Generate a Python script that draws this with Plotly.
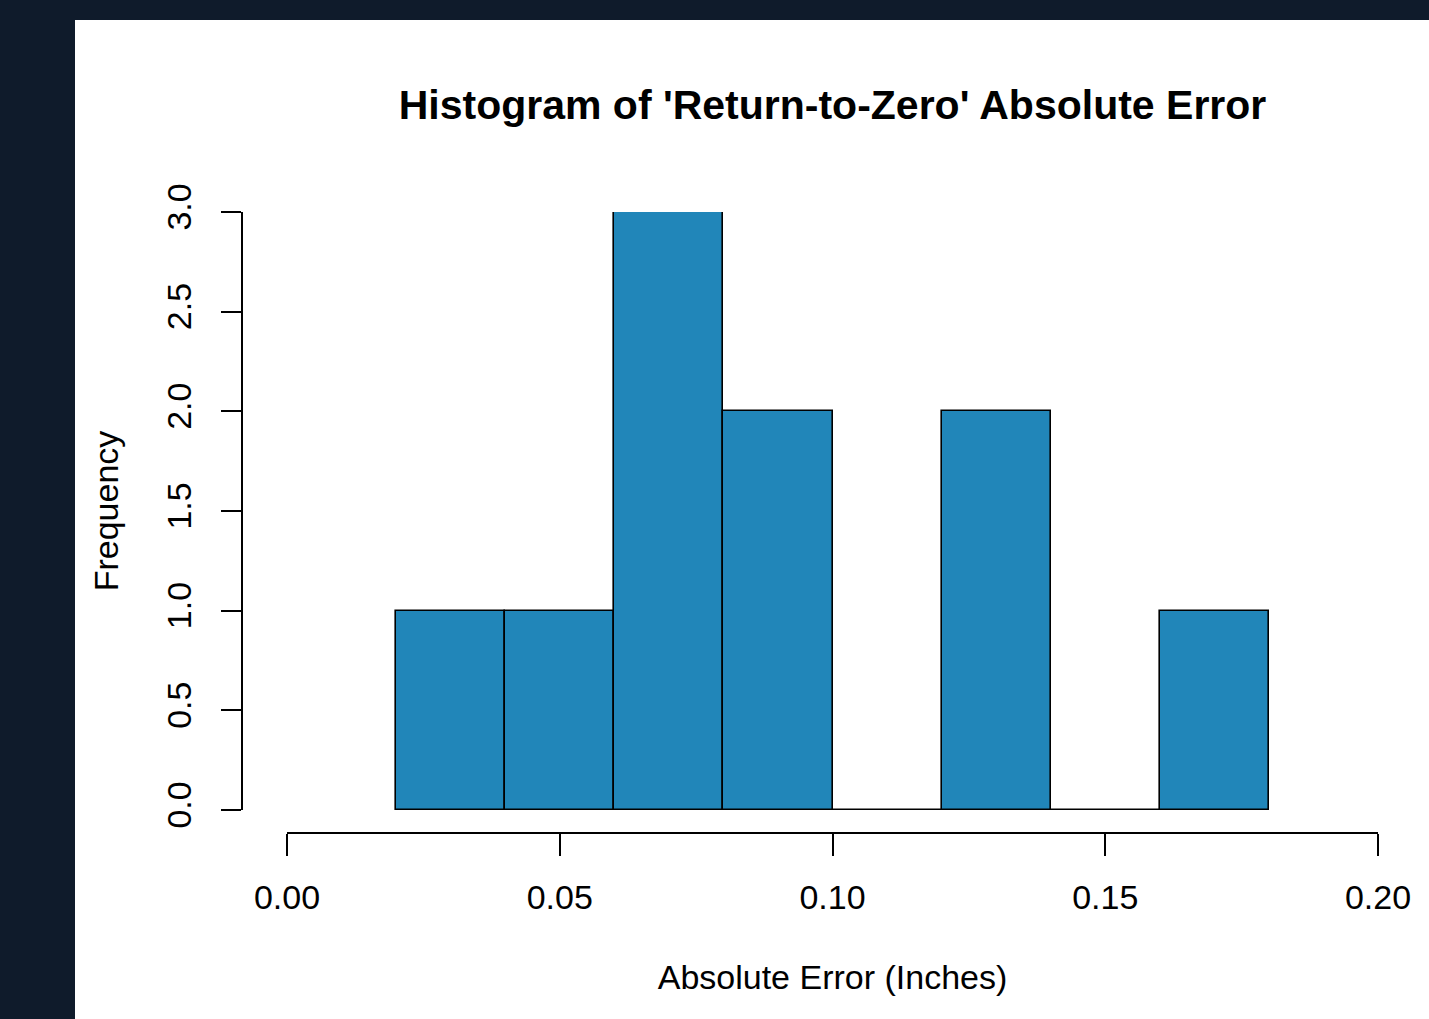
import plotly.graph_objects as go

# Data
bin_edges = [0.02, 0.04, 0.06, 0.08, 0.10, 0.12, 0.14, 0.16, 0.18]
counts = [1, 1, 3, 2, 0, 2, 0, 1]
x_ticks = [0.00, 0.05, 0.10, 0.15, 0.20]
x_tick_labels = ["0.00", "0.05", "0.10", "0.15", "0.20"]
y_ticks = [0.0, 0.5, 1.0, 1.5, 2.0, 2.5, 3.0]
y_tick_labels = ["0.0", "0.5", "1.0", "1.5", "2.0", "2.5", "3.0"]

W, H = 1429, 1019
FONT = "Liberation Sans, Arial, Helvetica, sans-serif"
BG = "#0f1b2b"

mids = [(bin_edges[i] + bin_edges[i + 1]) / 2 for i in range(len(counts))]
widths = [bin_edges[i + 1] - bin_edges[i] for i in range(len(counts))]

fig = go.Figure()
fig.add_trace(go.Bar(
    x=mids, y=counts, width=widths,
    marker=dict(color="#2186b9", line=dict(color="black", width=1.6)),
    hoverinfo="x+y",
))

def px_x(p):
    return p / W

def px_y(p):
    return 1 - p / H

fig.update_layout(
    width=W, height=H,
    autosize=False,
    margin=dict(l=0, r=0, t=0, b=0, pad=0),
    paper_bgcolor=BG,
    plot_bgcolor="rgba(0,0,0,0)",
    showlegend=False,
    bargap=0,
    font=dict(family=FONT, color="black", size=34),
    title=dict(
        text="<b>Histogram of 'Return-to-Zero' Absolute Error</b>",
        x=832.5 / W, xanchor="center", xref="paper",
        y=px_y(105), yanchor="middle", yref="paper",
        automargin=False,
        font=dict(family=FONT, size=41, color="black"),
    ),
    xaxis=dict(
        domain=[px_x(287), px_x(1378)],
        range=[0, 0.2],
        anchor="free", position=px_y(833),
        automargin=False,
        showline=True, linecolor="black", linewidth=2,
        ticks="outside", ticklen=22, tickwidth=2, tickcolor="black",
        tickvals=x_ticks, ticktext=x_tick_labels,
        ticklabelstandoff=12,
        showgrid=False, zeroline=False,
        title=dict(text="Absolute Error (Inches)", standoff=49,
                   font=dict(family=FONT, size=34)),
    ),
    yaxis=dict(
        domain=[px_y(810), px_y(212)],
        range=[0, 3],
        anchor="free", position=px_x(242),
        automargin=False,
        showline=True, linecolor="black", linewidth=2,
        ticks="outside", ticklen=20, tickwidth=2, tickcolor="black",
        tickvals=y_ticks, ticktext=y_tick_labels,
        tickangle=-90,
        ticklabelstandoff=16,
        showgrid=False, zeroline=False,
        title=dict(text="Frequency", standoff=31,
                   font=dict(family=FONT, size=34)),
    ),
    shapes=[
        dict(type="rect", xref="paper", yref="paper",
             x0=px_x(75), x1=1, y0=0, y1=px_y(20),
             fillcolor="white", line=dict(width=0), layer="below"),
    ],
)

fig.write_html(
    "out.html",
    config={"displayModeBar": False},
    post_script="document.body.style.margin='0';document.body.style.padding='0';"
                "document.body.style.overflow='hidden';document.body.style.background='" + BG + "';",
)
